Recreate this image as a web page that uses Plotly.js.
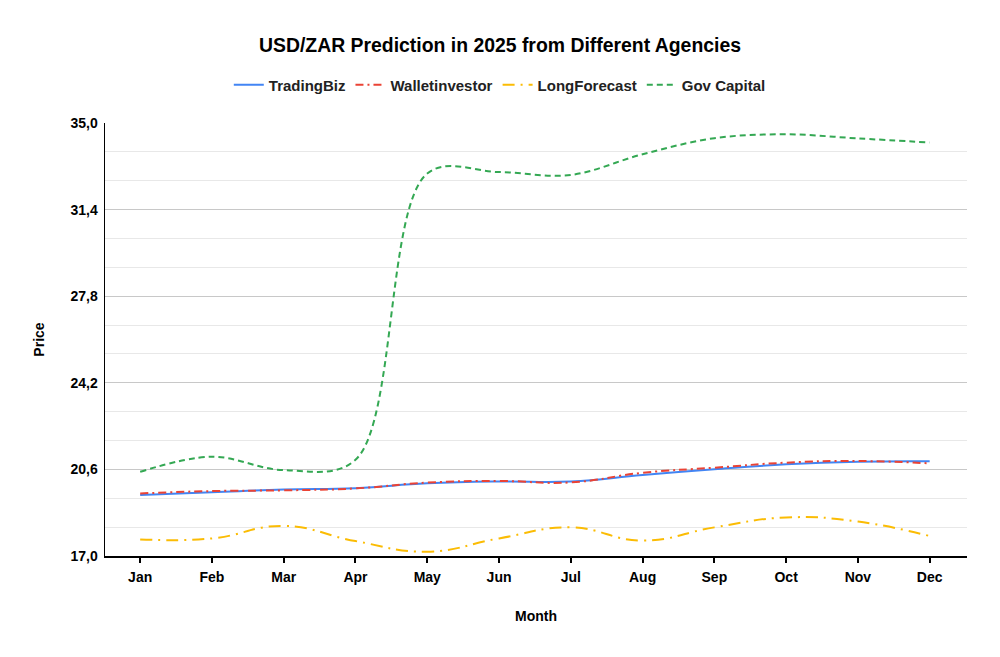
<!DOCTYPE html>
<html>
<head>
<meta charset="utf-8">
<script src="https://cdn.plot.ly/plotly-3.0.1.min.js"></script>
<style>
    body { margin: 0; background: #fff; }
    #chart { width: 1000px; height: 657px; }
</style>
</head>
<body>
<div id="chart"></div>
<script>
// values
const months = ['Jan', 'Feb', 'Mar', 'Apr', 'May', 'Jun', 'Jul', 'Aug', 'Sep', 'Oct', 'Nov', 'Dec'];
const tradingBiz = [19.54, 19.65, 19.76, 19.82, 20.02, 20.10, 20.10, 20.37, 20.61, 20.81, 20.92, 20.94];
const walletInvestor = [19.60, 19.70, 19.73, 19.81, 20.05, 20.12, 20.06, 20.46, 20.67, 20.88, 20.95, 20.85];
const longForecast = [17.69, 17.73, 18.25, 17.62, 17.18, 17.73, 18.19, 17.64, 18.19, 18.60, 18.43, 17.83];
const govCapital = [20.50, 21.13, 20.57, 21.00, 32.90, 32.96, 32.84, 33.70, 34.37, 34.53, 34.36, 34.19];

const yTicks = [17.0, 20.6, 24.2, 27.8, 31.4, 35.0];

function series(name, values, color, dash, smoothing) {
    return {
        x: months,
        y: values,
        name: '<b>' + name + '</b>',
        type: 'scatter',
        mode: 'lines',
        line: { color: color, width: 2, dash: dash, shape: 'spline', smoothing: smoothing }
    };
}

const data = [
    series('TradingBiz', tradingBiz, '#4285F4', 'solid', 1.3),
    series('Walletinvestor', walletInvestor, '#EA4335', '8px,4px,2px,4px', 1.3),
    series('LongForecast', longForecast, '#FBBC04', '12px,6px,2px,6px', 1.3),
    series('Gov Capital', govCapital, '#34A853', '6px,4px', 1.0)
];

const fam = 'Liberation Sans, Arial, sans-serif';
const tickFont = { family: fam, size: 14, color: '#000' };

const layout = {
    width: 1000,
    height: 657,
    separators: ',.',
    paper_bgcolor: '#fff',
    plot_bgcolor: '#fff',
    margin: { l: 105, r: 33, t: 123, b: 101 },
    title: {
        text: '<b>USD/ZAR Prediction in 2025 from Different Agencies</b>',
        font: { family: fam, size: 19.4, color: '#000' },
        x: 0.5,
        xanchor: 'center',
        y: 1 - 45 / 657,
        yanchor: 'middle'
    },
    showlegend: true,
    legend: {
        orientation: 'h',
        x: 0.458,
        xanchor: 'center',
        y: 1.088,
        yanchor: 'middle',
        font: { family: fam, size: 15, color: '#222' },
        itemwidth: 30
    },
    xaxis: {
        type: 'category',
        range: [-0.49, 11.52],
        showgrid: false,
        zeroline: false,
        showline: true,
        linecolor: '#000',
        linewidth: 1.5,
        ticks: 'outside',
        ticklen: 5,
        tickcolor: '#000',
        tickwidth: 2,
        tickfont: tickFont,
        tickprefix: '<b>',
        ticksuffix: '</b>',
        ticklabelstandoff: 3,
        title: {
            text: '<b>Month</b>',
            font: { family: fam, size: 14, color: '#000' },
            standoff: 27
        }
    },
    yaxis: {
        range: [17, 35],
        tickmode: 'array',
        tickvals: yTicks,
        ticktext: yTicks.map(v => '<b>' + v.toFixed(1).replace('.', ',') + '</b>'),
        tickfont: tickFont,
        ticklabelstandoff: 3,
        showgrid: true,
        gridcolor: '#c8c8c8',
        gridwidth: 1,
        minor: { dtick: 1.2, tick0: 17, showgrid: true, gridcolor: '#e8e8e8', gridwidth: 1 },
        zeroline: false,
        showline: true,
        linecolor: '#000',
        linewidth: 1.5,
        ticks: '',
        title: {
            text: '<b>Price</b>',
            font: { family: fam, size: 14, color: '#000' },
            standoff: 22
        }
    }
};

Plotly.newPlot('chart', data, layout, { staticPlot: true });
</script>
</body>
</html>
